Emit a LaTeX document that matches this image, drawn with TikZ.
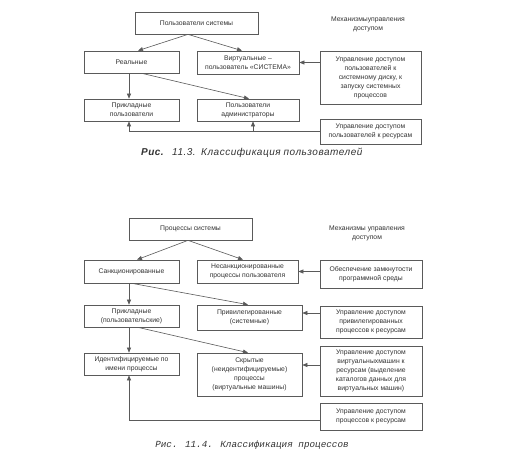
\documentclass[tikz,border=0pt]{standalone}
\usepackage{fontspec}
\setmainfont{Liberation Sans}
\newfontfamily\capfont[LetterSpace=5]{Liberation Sans}
\newfontfamily\capmono{Liberation Mono}
\usetikzlibrary{arrows.meta}
\definecolor{ink}{HTML}{333333}
\definecolor{ln}{HTML}{5A5A5A}
\begin{document}
\begin{tikzpicture}[x=1pt,y=-1pt,
  box/.style={draw=ln, line width=0.7pt, fill=white, inner sep=1pt, align=center,
    font=\fontsize{6.8}{9}\selectfont, text=ink},
  lbl/.style={align=center, font=\fontsize{6.8}{9}\selectfont, text=ink},
  arr/.style={draw=ln, line width=0.6pt, -{Triangle[length=5pt,width=4pt]}},
  ln/.style={draw=ln, line width=0.6pt}]
\fill[white] (0,0) rectangle (516,456);
\useasboundingbox (0,0) rectangle (516,456);

% ---------- Figure 11.3 ----------
\node[box, minimum width=123pt, minimum height=22pt] (top1) at (196.5,23) {Пользователи системы};
\node[box, minimum width=95pt, minimum height=22pt] (real) at (131.5,62) {Реальные};
\node[box, minimum width=102pt, minimum height=23pt] (virt) at (248,62.5) {Виртуальные –\\пользователь «СИСТЕМА»};
\node[box, minimum width=95pt, minimum height=22pt] (appl) at (131.5,110) {Прикладные\\пользователи};
\node[box, minimum width=102pt, minimum height=22pt] (admin) at (248,110) {Пользователи\\администраторы};
\node[lbl] (mech1) at (368,24.5) {Механизмыуправления\\доступом};
\node[box, minimum width=101pt, minimum height=53pt] (r1) at (370.5,77.5) {Управление доступом\\пользователей к\\системному диску, к\\запуску системных\\процессов};
\node[box, minimum width=101pt, minimum height=25pt] (r2) at (370.5,131.5) {Управление доступом\\пользователей к ресурсам};

\draw[arr] ([xshift=-8.5pt]top1.south) -- ([xshift=6.5pt]real.north);
\draw[arr] ([xshift=-8.5pt]top1.south) -- ([xshift=-6pt]virt.north);
\draw[arr] ([xshift=-2.5pt]real.south) -- ([xshift=-2.5pt]appl.north);
\draw[arr] ([xshift=10.5pt]real.south) -- ([xshift=1pt]admin.north);
\draw[arr] (r1.west |- virt.east) -- (virt.east);
\coordinate (a1) at ([xshift=-2.5pt]appl.south);
\coordinate (a2) at ([xshift=5pt]admin.south);
\draw[arr] (r2.west) -- (a1 |- r2.west) -- (a1);
\draw[arr] (a2 |- r2.west) -- (a2);

\node[font=\capfont\fontsize{10}{12}\selectfont, text=ink] (cap1) at (252,153)
  {\textbf{\textit{Рис.}}\hspace{8pt}\textit{11.3.}\hspace{5pt}\textit{Классификация\hspace{3pt}пользователей}};

% ---------- Figure 11.4 ----------
\node[box, minimum width=123pt, minimum height=22pt] (top2) at (190.5,229) {Процессы системы};
\node[box, minimum width=95pt, minimum height=23pt] (sanc) at (131.5,271.5) {Санкционированные};
\node[box, minimum width=101pt, minimum height=23pt] (unsanc) at (247.5,271.5) {Несанкционированные\\процессы пользователя};
\node[box, minimum width=95pt, minimum height=22pt] (applp) at (131.5,316) {Прикладные\\(пользовательские)};
\node[box, minimum width=105pt, minimum height=25pt] (priv) at (249.5,317.5) {Привилегированные\\(системные)};
\node[box, minimum width=95pt, minimum height=22pt] (ident) at (131.5,364) {Идентифицируемые по\\имени процессы};
\node[box, minimum width=105pt, minimum height=43pt] (hidden) at (249.5,374.5) {Скрытые\\(неидентифицируемые)\\процессы\\(виртуальные машины)};
\node[lbl] (mech2) at (367,233.5) {Механизмы управления\\доступом};
\node[box, minimum width=102pt, minimum height=28pt] (q1) at (371,274) {Обеспечение замкнутости\\программной среды};
\node[box, minimum width=102pt, minimum height=32pt] (q2) at (371,322) {Управление доступом\\привилегированных\\процессов к ресурсам};
\node[box, minimum width=102pt, minimum height=50pt] (q3) at (371,371) {Управление доступом\\виртуальныхмашин к\\ресурсам (выделение\\каталогов данных для\\виртуальных машин)};
\node[box, minimum width=102pt, minimum height=27pt] (q4) at (371,416.5) {Управление доступом\\процессов к ресурсам};

\draw[arr] ([xshift=-2.5pt]top2.south) -- ([xshift=5.5pt]sanc.north);
\draw[arr] ([xshift=-2.5pt]top2.south) -- ([xshift=-4.5pt]unsanc.north);
\draw[arr] ([xshift=-2.5pt]sanc.south) -- ([xshift=-2.5pt]applp.north);
\draw[arr] ([xshift=0.5pt]sanc.south) -- ([xshift=-1.5pt]priv.north);
\draw[arr] ([xshift=-2.5pt]applp.south) -- ([xshift=-2.5pt]ident.north);
\draw[arr] ([xshift=6.5pt]applp.south) -- ([xshift=-1.5pt]hidden.north);
\draw[arr] (q1.west |- unsanc.east) -- (unsanc.east);
\coordinate (p2) at ([yshift=4.5pt]priv.east);
\draw[arr] (q2.west |- p2) -- (p2);
\coordinate (p3) at ([yshift=9.5pt]hidden.east);
\draw[arr] (q3.west |- p3) -- (p3);
\coordinate (p4) at ([yshift=-3.5pt]q4.west);
\coordinate (a3) at ([xshift=-2.5pt]ident.south);
\draw[arr] (p4) -- (a3 |- p4) -- (a3);

\node[font=\capmono\itshape\fontsize{9.3}{11}\selectfont, text=ink] (cap2) at (252,445)
  {Рис. 11.4. Классификация процессов};
\end{tikzpicture}
\end{document}
